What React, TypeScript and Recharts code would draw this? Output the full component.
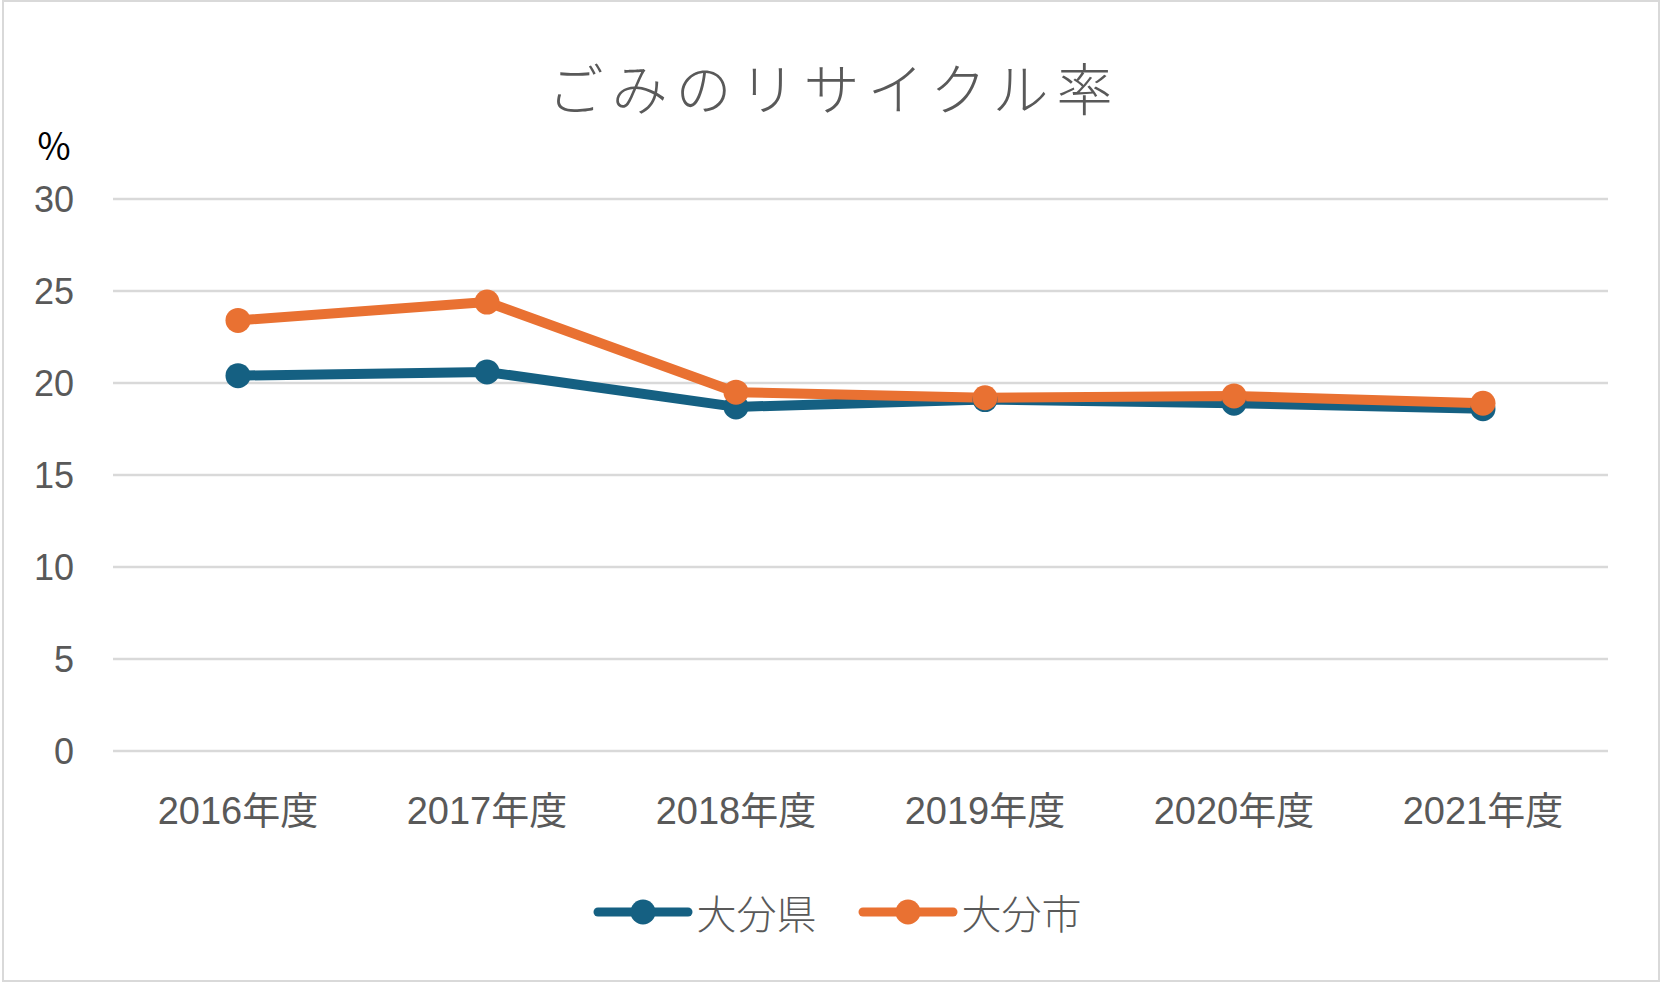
import React from 'react';
import { LineChart, Line, XAxis, YAxis, CartesianGrid, Legend } from 'recharts';

const years = ['2016年度', '2017年度', '2018年度', '2019年度', '2020年度', '2021年度'];
const prefValues = [20.4, 20.6, 18.7, 19.1, 18.9, 18.6];
const cityValues = [23.4, 24.4, 19.5, 19.2, 19.3, 18.9];
const yTicks = [0, 5, 10, 15, 20, 25, 30];
const seriesNames = ['大分県', '大分市'];

const PREF_COLOR = '#156082';
const CITY_COLOR = '#E97132';
const TEXT_COLOR = '#595959';
const FONT = '"Liberation Sans", "Noto Sans CJK JP", sans-serif';
const CJK_FONT = '"Noto Sans CJK JP", sans-serif';

const rows = years.map((year, i) => ({
  year,
  pref: prefValues[i],
  city: cityValues[i],
}));

const renderLegend = (props: any) => {
  const payload = [...(props.payload || [])].sort(
    (a: any, b: any) => seriesNames.indexOf(a.value) - seriesNames.indexOf(b.value)
  );
  return (
    <div
      style={{
        display: 'flex',
        justifyContent: 'center',
        alignItems: 'center',
        gap: 40,
        paddingLeft: 12,
      }}
    >
      {payload.map((entry: any) => (
        <div key={entry.value} style={{ display: 'flex', alignItems: 'center' }}>
          <svg width={102} height={30}>
            <line x1={6} x2={96} y1={15} y2={15} stroke={entry.color} strokeWidth={9} strokeLinecap="round" />
            <circle cx={51} cy={15} r={12.5} fill={entry.color} />
          </svg>
          <span
            style={{
              marginLeft: 3,
              fontSize: 40,
              fontFamily: CJK_FONT,
              fontWeight: 300,
              color: TEXT_COLOR,
              lineHeight: '54px',
            }}
          >
            {entry.value}
          </span>
        </div>
      ))}
    </div>
  );
};

export default function App() {
  return (
    <div style={{ position: 'absolute', left: 0, top: 0, width: 1661, height: 983, background: '#fff' }}>
      <div
        style={{
          position: 'absolute',
          left: 2,
          top: 0,
          width: 1654,
          height: 978,
          border: '2.5px solid #d9d9d9',
        }}
      />
      <div
        style={{
          position: 'absolute',
          left: 0,
          top: 50,
          width: 1668,
          textAlign: 'center',
          fontFamily: CJK_FONT,
          fontWeight: 300,
          fontSize: 56,
          letterSpacing: 8,
          lineHeight: '72px',
          color: TEXT_COLOR,
        }}
      >
        ごみのリサイクル率
      </div>
      <div
        style={{
          position: 'absolute',
          left: 36,
          top: 124,
          fontFamily: CJK_FONT,
          fontSize: 36,
          lineHeight: '40px',
          color: '#000',
        }}
      >
        ％
      </div>
      <LineChart
        width={1661}
        height={983}
        data={rows}
        margin={{ top: 199, right: 53, bottom: 132, left: 0 }}
        style={{ position: 'absolute', left: 0, top: 0 }}
      >
        <CartesianGrid vertical={false} stroke="#d9d9d9" strokeWidth={2.5} />
        <XAxis
          dataKey="year"
          height={100}
          axisLine={false}
          tickLine={false}
          tickSize={0}
          tickMargin={46}
          padding={{ left: 125, right: 125 }}
          interval={0}
          tick={{ fill: TEXT_COLOR, fontSize: 38, fontFamily: FONT }}
        />
        <YAxis
          width={113}
          domain={[0, 30]}
          ticks={yTicks}
          interval={0}
          axisLine={false}
          tickLine={false}
          tickSize={0}
          tickMargin={39}
          tick={{ fill: TEXT_COLOR, fontSize: 36, fontFamily: FONT }}
        />
        <Legend
          layout="horizontal"
          verticalAlign="middle"
          align="center"
          content={renderLegend}
          wrapperStyle={{ top: 885, left: 0, width: 1661 }}
        />
        <Line
          type="linear"
          dataKey="pref"
          name={seriesNames[0]}
          stroke={PREF_COLOR}
          strokeWidth={10}
          strokeLinejoin="round"
          dot={{ r: 12.5, fill: PREF_COLOR, stroke: PREF_COLOR, strokeWidth: 0 }}
          activeDot={false}
          isAnimationActive={false}
        />
        <Line
          type="linear"
          dataKey="city"
          name={seriesNames[1]}
          stroke={CITY_COLOR}
          strokeWidth={10}
          strokeLinejoin="round"
          dot={{ r: 12.5, fill: CITY_COLOR, stroke: CITY_COLOR, strokeWidth: 0 }}
          activeDot={false}
          isAnimationActive={false}
        />
      </LineChart>
    </div>
  );
}
